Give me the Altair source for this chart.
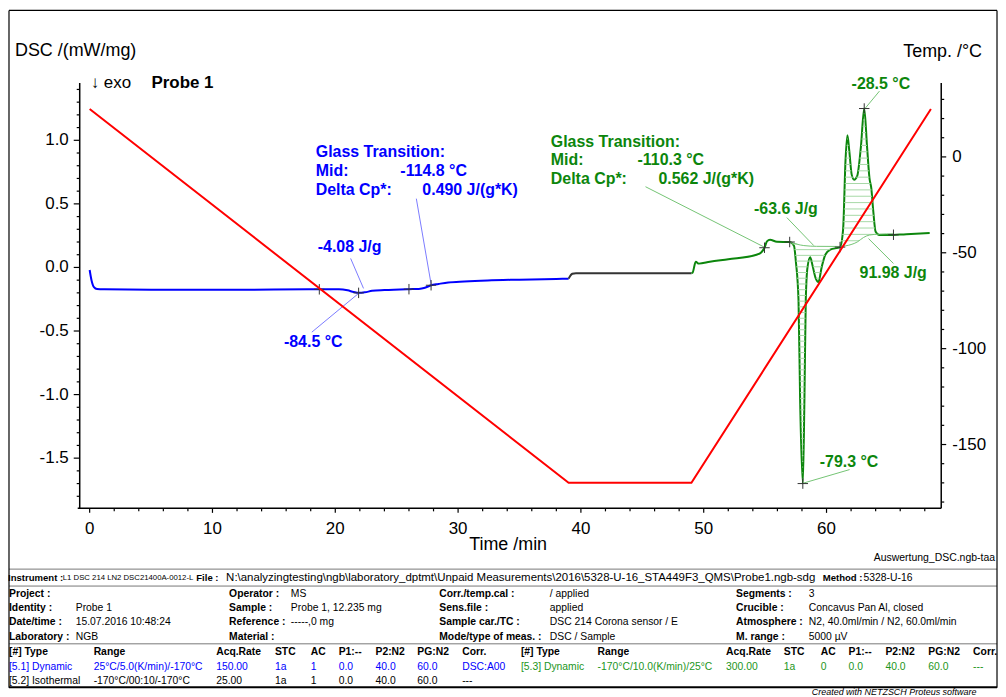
import altair as alt
import numpy as np
import pandas as pd

FONT = "Liberation Sans"
BLUE = "#0000ff"
GREEN = "#0c860c"
RED = "#ff0000"
BLUE_LEAD = "#7b7bff"
GREEN_LEAD = "#74c474"
HATCH = "#a6d9a6"

# ---------------- data ----------------
# segment 1: dynamic cooling 25 -> -170 C (blue)
seg1_time = [0.0, 0.15, 0.35, 0.6, 1.2, 5.0, 10.0, 15.0, 18.7, 20.3, 21.0, 21.5, 21.9, 22.4,
             23.0, 24.0, 26.0, 26.8, 27.3, 27.8, 28.4, 29.2, 30.5, 32.4, 35.0, 38.0, 39.0]
seg1_dsc = [-0.02, -0.10, -0.155, -0.170, -0.172, -0.175, -0.176, -0.174, -0.172, -0.172, -0.180, -0.193, -0.200, -0.196,
            -0.184, -0.178, -0.171, -0.169, -0.160, -0.140, -0.130, -0.118, -0.110, -0.102, -0.096, -0.090, -0.088]
# segment 2: isothermal (black)
seg2_time = [39.0, 39.3, 39.6, 49.0]
seg2_dsc = [-0.088, -0.050, -0.045, -0.045]
# segment 3: dynamic heating -170 -> 25 C (green)
seg3_time = [49.0, 49.1, 49.35, 49.6, 50.5, 52.0, 54.3, 54.7, 54.95, 55.15, 55.4, 55.96, 57.0, 57.35,
             57.5, 57.72, 57.85, 58.07, 58.2, 58.31, 58.45, 58.67, 58.85, 59.1, 59.34, 59.6, 59.9, 60.3,
             61.1, 61.35, 61.55, 61.7, 61.85, 62.05, 62.25, 62.5, 62.8, 63.07, 63.3, 63.5, 63.65, 63.8,
             64.0, 64.3, 65.0, 66.5, 68.4]
seg3_dsc = [-0.045, -0.040, 0.045, 0.030, 0.045, 0.065, 0.100, 0.120, 0.155, 0.205, 0.218, 0.202, 0.200, 0.170,
            0.050, -0.260, -1.040, -1.700, -1.040, -0.260, 0.000, 0.080, 0.020, -0.080, -0.115, 0.000, 0.100, 0.140,
            0.160, 0.300, 0.850, 1.040, 0.920, 0.730, 0.690, 0.720, 0.950, 1.250, 0.950, 0.700, 0.620, 0.450,
            0.280, 0.255, 0.255, 0.262, 0.270]

# temperature program
temp_time = [0.0, 39.0, 49.0, 68.5]
temp_value = [25.0, -170.0, -170.0, 25.0]

# integration baselines
base_exo_time = [57.0, 58.15, 59.2, 61.1]
base_exo_dsc = [0.200, 0.172, 0.166, 0.165]
base_endo_time = [61.1, 62.0, 62.5, 63.0, 63.5, 64.3, 65.45]
base_endo_dsc = [0.165, 0.180, 0.200, 0.235, 0.255, 0.262, 0.265]

# evaluation marker times
blue_marker_time = [18.7, 21.9, 26.0, 27.8]
green_marker_time = [54.95, 57.0, 61.1, 63.07, 65.45, 58.07]

# leader lines (time, dsc) -> (time, dsc)
lead_t1 = [21.25, 18.09, 26.60, 45.26, 56.77, 63.42, 63.10, 57.99]
lead_v1 = [0.071, -0.509, 0.541, 0.635, 0.392, 0.227, 1.246, -1.700]
lead_t2 = [22.30, 21.90, 27.82, 54.99, 58.96, 65.45, 64.31, 61.88]
lead_v2 = [-0.165, -0.204, -0.141, 0.157, 0.172, 0.031, 1.387, -1.590]
lead_col = [BLUE_LEAD] * 3 + [GREEN_LEAD] * 5

# annotation texts (anchored at time / dsc)
ann_text = ["Glass Transition:", "Mid:", "-114.8 \u00b0C", "Delta Cp*:", "0.490 J/(g*K)", "-4.08 J/g", "-84.5 \u00b0C",
            "Glass Transition:", "Mid:", "-110.3 \u00b0C", "Delta Cp*:", "0.562 J/(g*K)", "-63.6 J/g", "91.98 J/g",
            "-28.5 \u00b0C", "-79.3 \u00b0C"]
ann_time = [18.41, 18.41, 25.30, 18.41, 27.09, 18.57, 15.82,
            37.55, 37.55, 44.61, 37.55, 46.31, 54.10, 62.69, 62.04, 59.45]
ann_dsc = [0.909, 0.760, 0.760, 0.611, 0.611, 0.157, -0.588,
           0.987, 0.846, 0.846, 0.697, 0.697, 0.462, -0.047, 1.441, -1.528]
ann_col = [BLUE] * 7 + [GREEN] * 9

# axis ticks
x_major = [0, 10, 20, 30, 40, 50, 60]
x_minor = [v for v in range(0, 70, 2) if v % 10]
yl_major = [-1.5, -1.0, -0.5, 0.0, 0.5, 1.0]
yl_minor = [round(v, 1) for v in np.arange(-1.8, 1.45, 0.1) if abs(round(v * 2, 3) - round(v * 2)) > 1e-6]
yr_major = [-150, -100, -50, 0]
yr_minor = [v for v in range(-180, 40, 10) if v % 50]

# info table texts
instr_labels = ["Instrument :", "File :", "Method :"]
instr_values = ["L1 DSC 214 LN2 DSC21400A-0012-L",
                "N:\\analyzingtesting\\ngb\\laboratory_dptmt\\Unpaid Measurements\\2016\\5328-U-16_STA449F3_QMS\\Probe1.ngb-sdg",
                "5328-U-16"]
meta_labels = [["Project :", "Operator :", "Corr./temp.cal :", "Segments :"],
               ["Identity :", "Sample :", "Sens.file :", "Crucible :"],
               ["Date/time :", "Reference :", "Sample car./TC :", "Atmosphere :"],
               ["Laboratory :", "Material :", "Mode/type of meas. :", "M. range :"]]
meta_values = [["", "MS", "/ applied", "3"],
               ["Probe 1", "Probe 1, 12.235 mg", "applied", "Concavus Pan Al, closed"],
               ["15.07.2016 10:48:24", "-----,0 mg", "DSC 214 Corona sensor / E", "N2, 40.0ml/min / N2, 60.0ml/min"],
               ["NGB", "", "DSC / Sample", "5000 \u00b5V"]]
seg_header = ["[#] Type", "Range", "Acq.Rate", "STC", "AC", "P1:--", "P2:N2", "PG:N2", "Corr."]
seg_row1 = ["[5.1] Dynamic", "25\u00b0C/5.0(K/min)/-170\u00b0C", "150.00", "1a", "1", "0.0", "40.0", "60.0", "DSC:A00"]
seg_row2 = ["[5.2] Isothermal", "-170\u00b0C/00:10/-170\u00b0C", "25.00", "1a", "1", "0.0", "40.0", "60.0", "---"]
seg_row3 = ["[5.3] Dynamic", "-170\u00b0C/10.0(K/min)/25\u00b0C", "300.00", "1a", "0", "0.0", "40.0", "60.0", "---"]

# ---------------- layout ----------------
W, H = 865, 427
PAD_L, PAD_T, PAD_R, PAD_B = 72, 74, 57, 188
OX, OY = 80, 82  # page position of plot origin


def P(items):
    return pd.DataFrame({"text": [i[0] for i in items],
                         "x": [i[1] - OX for i in items],
                         "y": [i[2] - OY for i in items]})


XS = alt.Scale(domain=[-0.81, 69.34], nice=False, zero=False)
YL = alt.Scale(domain=[-1.895, 1.45], nice=False, zero=False)
YR = alt.Scale(domain=[-183.3, 38.5], nice=False, zero=False)
NOAX = None

# DSC curve
dsc_df = pd.concat([
    pd.DataFrame({"t": seg1_time, "v": seg1_dsc, "seg": "s1"}),
    pd.DataFrame({"t": seg2_time, "v": seg2_dsc, "seg": "s2"}),
    pd.DataFrame({"t": seg3_time, "v": seg3_dsc, "seg": "s3"}),
])
dsc_line = alt.Chart(dsc_df).mark_line(strokeWidth=2, interpolate="monotone").encode(
    x=alt.X("t:Q", scale=XS, axis=NOAX),
    y=alt.Y("v:Q", scale=YL, axis=NOAX),
    color=alt.Color("seg:N", scale=alt.Scale(domain=["s1", "s2", "s3"], range=[BLUE, "#333333", GREEN]), legend=None),
    detail="seg:N",
)


def hatch_rows(t0, t1, base_t, base_v, levels, below):
    tt = np.linspace(t0, t1, 6000)
    c = np.interp(tt, seg3_time, seg3_dsc)
    b = np.interp(tt, base_t, base_v)
    rows = []
    for lv in levels:
        m = ((c < lv) & (b > lv)) if below else ((c > lv) & (b < lv))
        edges = np.flatnonzero(np.diff(np.concatenate([[0], m.astype(int), [0]])))
        for s, e in zip(edges[::2], edges[1::2]):
            rows.append((tt[s], tt[e - 1], lv))
    return rows


hrows = hatch_rows(57.0, 61.1, base_exo_time, base_exo_dsc, np.arange(-1.66, 0.2, 0.045), True) + \
        hatch_rows(61.1, 65.45, base_endo_time, base_endo_dsc, np.arange(0.21, 1.26, 0.05), False)
hatch_df = pd.DataFrame(hrows, columns=["t1", "t2", "v"])
hatch = alt.Chart(hatch_df).mark_rule(color=HATCH, strokeWidth=1).encode(
    x=alt.X("t1:Q", scale=XS, axis=NOAX), x2="t2:Q", y=alt.Y("v:Q", scale=YL, axis=NOAX))

base_df = pd.concat([
    pd.DataFrame({"t": base_exo_time, "v": base_exo_dsc, "b": "a"}),
    pd.DataFrame({"t": base_endo_time, "v": base_endo_dsc, "b": "b"}),
])
baselines = alt.Chart(base_df).mark_line(color=GREEN_LEAD, strokeWidth=1, interpolate="monotone").encode(
    x=alt.X("t:Q", scale=XS, axis=NOAX), y=alt.Y("v:Q", scale=YL, axis=NOAX), detail="b:N")

lead_df = pd.DataFrame({"t1": lead_t1, "v1": lead_v1, "t2": lead_t2, "v2": lead_v2, "c": lead_col})
leaders = alt.Chart(lead_df).mark_rule(strokeWidth=1).encode(
    x=alt.X("t1:Q", scale=XS, axis=NOAX), x2="t2:Q",
    y=alt.Y("v1:Q", scale=YL, axis=NOAX), y2="v2:Q",
    color=alt.Color("c:N", scale=None))

mk_t = blue_marker_time + green_marker_time
mk_v = list(np.interp(blue_marker_time, seg1_time, seg1_dsc)) + list(np.interp(green_marker_time, seg3_time, seg3_dsc))
marker_df = pd.DataFrame({"t": mk_t, "v": mk_v})
markers = alt.Chart(marker_df).mark_point(shape="M-1,0L1,0M0,-1L0,1", size=110, filled=False,
                                          color="#333333", strokeWidth=1, opacity=1).encode(
    x=alt.X("t:Q", scale=XS, axis=NOAX), y=alt.Y("v:Q", scale=YL, axis=NOAX))

ann_df = pd.DataFrame({"text": ann_text, "t": ann_time, "v": ann_dsc, "c": ann_col})
annots = alt.Chart(ann_df).mark_text(font=FONT, fontSize=16, fontWeight="bold", align="left",
                                     baseline="middle").encode(
    x=alt.X("t:Q", scale=XS, axis=NOAX), y=alt.Y("v:Q", scale=YL, axis=NOAX),
    text="text:N", color=alt.Color("c:N", scale=None))

# ---- hand-built axes (drawn through the scales) ----
one = pd.DataFrame({"k": [0]})
AXW = 1.5
axis_lines = [
    alt.Chart(one).mark_rule(color="black", strokeWidth=AXW).encode(
        x=alt.value(0), y=alt.value(0), y2=alt.value(H)),
    alt.Chart(one).mark_rule(color="black", strokeWidth=AXW).encode(
        x=alt.value(-2), x2=alt.value(W), y=alt.value(H)),
]
xmaj_df = pd.DataFrame({"t": x_major, "lab": [str(v) for v in x_major]})
xminor = alt.Chart(pd.DataFrame({"t": x_minor})).mark_rule(color="black", strokeWidth=1.2).encode(
    x=alt.X("t:Q", scale=XS, axis=NOAX), y=alt.value(H), y2=alt.value(H + 3))
xmajor = alt.Chart(xmaj_df).mark_rule(color="black", strokeWidth=1.2).encode(
    x=alt.X("t:Q", scale=XS, axis=NOAX), y=alt.value(H), y2=alt.value(H + 4.5))
xlabels = alt.Chart(xmaj_df).mark_text(font=FONT, fontSize=17, color="black", align="center",
                                       baseline="middle").encode(
    x=alt.X("t:Q", scale=XS, axis=NOAX), y=alt.value(H + 21), text="lab:N")

ylmaj_df = pd.DataFrame({"v": yl_major, "lab": [f"{v:.1f}" for v in yl_major]})
ylminor = alt.Chart(pd.DataFrame({"v": yl_minor})).mark_rule(color="black", strokeWidth=1.2).encode(
    y=alt.Y("v:Q", scale=YL, axis=NOAX), x=alt.value(-3), x2=alt.value(0))
ylmajor = alt.Chart(ylmaj_df).mark_rule(color="black", strokeWidth=1.2).encode(
    y=alt.Y("v:Q", scale=YL, axis=NOAX), x=alt.value(-6), x2=alt.value(0))
yllabels = alt.Chart(ylmaj_df).mark_text(font=FONT, fontSize=17, color="black", align="right",
                                         baseline="middle").encode(
    y=alt.Y("v:Q", scale=YL, axis=NOAX), x=alt.value(-11), text="lab:N")


def text_layer(df, size, weight="normal", color="black", align="left", style="normal", font=FONT):
    return alt.Chart(df).mark_text(font=font, fontSize=size, fontWeight=weight, color=color, align=align,
                                   baseline="middle", fontStyle=style).encode(
        x=alt.X("x:Q", scale=None, axis=NOAX), y=alt.Y("y:Q", scale=None, axis=NOAX), text="text:N")


page_layers = []
page_layers.append(text_layer(P([("DSC /(mW/mg)", 15, 50), ("Time /min", 471, 546)]), 18))
page_layers.append(text_layer(P([("Temp. /\u00b0C", 986, 51)]), 18, align="right"))
page_layers.append(text_layer(P([("\u2193 exo", 91, 82)]), 17))
page_layers.append(text_layer(P([("Probe 1", 152, 82)]), 17, weight="bold"))
page_layers.append(text_layer(P([("Auswertung_DSC.ngb-taa", 999, 559)]), 10.5, align="right"))

TS = 10.4
instr_x_lab = [8, 197, 826]
instr_x_val = [63, 227, 867]
instr_sizes = [7.8, 11.5, 10.4]
page_layers.append(text_layer(P([(s, x, 579) for s, x in zip(instr_labels, instr_x_lab)]), 9.6, weight="bold"))
for s, x, fs in zip(instr_values, instr_x_val, instr_sizes):
    page_layers.append(text_layer(P([(s, x, 579)]), fs))

meta_y = [595, 609, 623, 638]
meta_x_lab = [9, 230, 441, 739]
meta_x_val = [76, 292, 552, 812]
lab_items, val_items = [], []
for r, yy in enumerate(meta_y):
    for c in range(4):
        lab_items.append((meta_labels[r][c], meta_x_lab[c], yy))
        if meta_values[r][c]:
            val_items.append((meta_values[r][c], meta_x_val[c], yy))
page_layers.append(text_layer(P(lab_items), TS, weight="bold"))
page_layers.append(text_layer(P(val_items), TS))

cols_left = [9, 94, 217, 276, 312, 340, 377, 419, 464]
cols_right = [523, 600, 729, 787, 824, 852, 889, 932, 977]
page_layers.append(text_layer(P([(s, x, 653) for s, x in zip(seg_header, cols_left)] +
                                [(s, x, 653) for s, x in zip(seg_header, cols_right)]), TS, weight="bold"))
page_layers.append(text_layer(P([(s, x, 668) for s, x in zip(seg_row1, cols_left)]), TS, color=BLUE))
page_layers.append(text_layer(P([(s, x, 668) for s, x in zip(seg_row3, cols_right)]), TS, color="#1c961c"))
page_layers.append(text_layer(P([(s, x, 682) for s, x in zip(seg_row2, cols_left)]), TS))
page_layers.append(text_layer(P([("Created with NETZSCH Proteus software", 815, 693)]), 9, style="italic"))

# frame / table rules (page coordinates)
thin = pd.DataFrame({"x1": [9, 9, 9, 9], "x2": [1001, 1001, 1001, 1001], "y1": [570, 587, 645, 9],
                     "y2": [570, 587, 645, 9]})
thin[["x1", "x2"]] -= OX
thin[["y1", "y2"]] -= OY
vert = pd.DataFrame({"x1": [9, 1001], "x2": [9, 1001], "y1": [9, 9], "y2": [689, 689]})
vert[["x1", "x2"]] -= OX
vert[["y1", "y2"]] -= OY
bottom = pd.DataFrame({"x1": [9], "x2": [1001], "y1": [688.5], "y2": [688.5]})
bottom[["x1", "x2"]] -= OX
bottom[["y1", "y2"]] -= OY


def rule_layer(df, color, width):
    return alt.Chart(df).mark_rule(color=color, strokeWidth=width).encode(
        x=alt.X("x1:Q", scale=None, axis=NOAX), x2="x2:Q",
        y=alt.Y("y1:Q", scale=None, axis=NOAX), y2="y2:Q")


page_layers += [rule_layer(thin.iloc[:3], "#777777", 1), rule_layer(thin.iloc[3:], "black", 1.2),
                rule_layer(vert, "black", 1.2), rule_layer(bottom, "black", 2)]

dsc_group = alt.layer(dsc_line, hatch, baselines, leaders, markers, annots,
                      *axis_lines, xminor, xmajor, xlabels, ylminor, ylmajor, yllabels, *page_layers)

temp_df = pd.DataFrame({"t": temp_time, "T": temp_value})
temp_line = alt.Chart(temp_df).mark_line(color=RED, strokeWidth=2).encode(
    x=alt.X("t:Q", scale=XS, axis=NOAX), y=alt.Y("T:Q", scale=YR, axis=NOAX))
yrmaj_df = pd.DataFrame({"T": yr_major, "lab": [str(v) for v in yr_major]})
yrminor = alt.Chart(pd.DataFrame({"T": yr_minor})).mark_rule(color="black", strokeWidth=1.2).encode(
    y=alt.Y("T:Q", scale=YR, axis=NOAX), x=alt.value(W), x2=alt.value(W + 3))
yrmajor = alt.Chart(yrmaj_df).mark_rule(color="black", strokeWidth=1.2).encode(
    y=alt.Y("T:Q", scale=YR, axis=NOAX), x=alt.value(W), x2=alt.value(W + 5))
yrlabels = alt.Chart(yrmaj_df).mark_text(font=FONT, fontSize=17, color="black", align="left",
                                         baseline="middle").encode(
    y=alt.Y("T:Q", scale=YR, axis=NOAX), x=alt.value(W + 11), text="lab:N")
right_line = alt.Chart(one).mark_rule(color="black", strokeWidth=AXW).encode(
    x=alt.value(W), y=alt.value(0), y2=alt.value(H))
temp_group = alt.layer(temp_line, yrminor, yrmajor, yrlabels, right_line)

chart = alt.layer(dsc_group, temp_group).resolve_scale(y="independent").properties(
    width=W, height=H, autosize="none",
    padding={"left": PAD_L, "top": PAD_T, "right": PAD_R, "bottom": PAD_B},
    background="white",
).configure_view(stroke=None)

chart.save("out.html", embed_options={"renderer": "svg", "actions": False})
